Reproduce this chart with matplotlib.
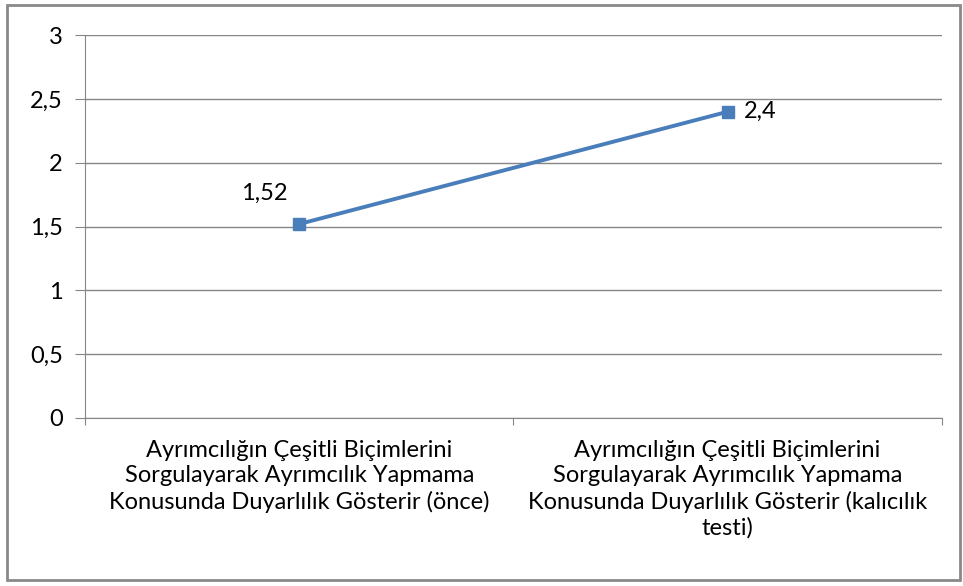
import matplotlib
matplotlib.use("Agg")
import matplotlib.pyplot as plt
from matplotlib.patches import Rectangle
from matplotlib.ticker import FuncFormatter

categories = [
    "Ayrımcılığın Çeşitli Biçimlerini\nSorgulayarak Ayrımcılık Yapmama\nKonusunda Duyarlılık Gösterir (önce)",
    "Ayrımcılığın Çeşitli Biçimlerini\nSorgulayarak Ayrımcılık Yapmama\nKonusunda Duyarlılık Gösterir (kalıcılık\ntesti)",
]
values = [1.52, 2.4]
value_labels = ["1,52", "2,4"]
y_ticks = [0, 0.5, 1, 1.5, 2, 2.5, 3]

plt.rcParams['font.family'] = ['Lato', 'DejaVu Sans']

fig = plt.figure(figsize=(9.63, 5.86), dpi=100)
ax = fig.add_axes([0.0883, 0.2867, 0.8897, 0.6533])

grid_col = "#868686"
line_col = "#4A7EBB"

x = [0.5, 1.5]
ax.plot(x, values, color=line_col, lw=2.8, marker="s", markersize=9,
        markerfacecolor=line_col, markeredgecolor=line_col, zorder=3)

ax.annotate(value_labels[0], (x[0], values[0]), xytext=(-35, 31),
            textcoords="offset pixels", ha="center", va="center", fontsize=17)
ax.annotate(value_labels[1], (x[1], values[1]), xytext=(16, 0),
            textcoords="offset pixels", ha="left", va="center", fontsize=17)

ax.set_xlim(0, 2)
ax.set_ylim(0, 3)
ax.set_yticks(y_ticks)
ax.yaxis.set_major_formatter(FuncFormatter(lambda v, p: f"{v:g}".replace(".", ",")))
ax.grid(axis="y", color=grid_col, lw=1)
ax.set_axisbelow(True)

# category boundary ticks, labels centered between them
ax.set_xticks([0, 1, 2])
ax.set_xticklabels([])
ax.set_xticks(x, minor=True)
ax.set_xticklabels(categories, minor=True, fontsize=17, linespacing=1.24)
ax.tick_params(axis="x", which="minor", length=0, pad=16)
ax.tick_params(axis="x", which="major", length=5, color=grid_col, direction="out")
ax.tick_params(axis="y", length=7, color=grid_col, labelsize=17, pad=9)

for s in ["top", "right"]:
    ax.spines[s].set_visible(False)
ax.spines["left"].set_color(grid_col)
ax.spines["bottom"].set_color(grid_col)

fig.patches.append(Rectangle((7 / 963, 6 / 586), 953 / 963, 575 / 586,
                             transform=fig.transFigure, fill=False,
                             edgecolor="#898989", lw=2))

fig.savefig("out.png", dpi=100)
